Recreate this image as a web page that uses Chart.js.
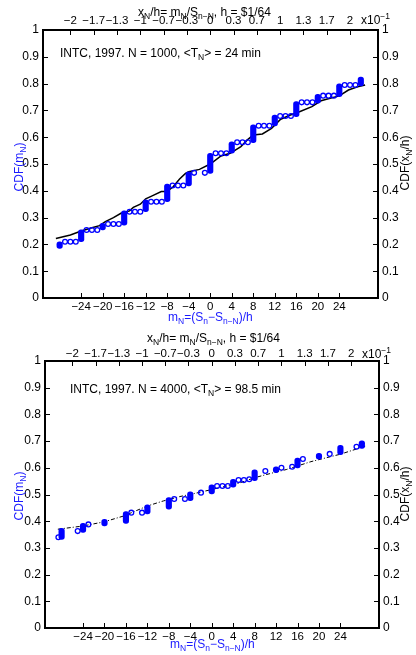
<!DOCTYPE html>
<html>
<head>
<meta charset="utf-8">
<script src="https://cdn.jsdelivr.net/npm/chart.js@4.4.0/dist/chart.umd.min.js"></script>
<style>
    body { margin: 0; background: #fff; width: 416px; height: 655px; position: relative; overflow: hidden;
           font-family: 'Liberation Sans', Arial, sans-serif; }
    canvas { position: absolute; left: 0; }
    .lbl { position: absolute; font-size: 12px; line-height: 14px; white-space: nowrap; color: #000; }
    .lbl sub { font-size: 8.5px; vertical-align: -3px; line-height: 0; }
    .lbl sup { font-size: 8.5px; vertical-align: 5px; line-height: 0; }
    .blue { color: #1a1aff; }
    .rot { transform: translate(-50%, -50%) rotate(-90deg); }
</style>
</head>
<body>
<canvas id="topChart" width="416" height="328" style="top:0"></canvas>
<canvas id="botChart" width="416" height="327" style="top:328px"></canvas>

<!-- top panel texts -->
<div class="lbl" style="left:138px;top:5px">x<sub>N</sub>/h= m<sub>N</sub>/S<sub>n−N</sub>, h = $1/64</div>
<div class="lbl" style="left:361px;top:13px">x10<sup>−1</sup></div>
<div class="lbl" style="left:60px;top:46px">INTC, 1997. N = 1000, &lt;T<sub>N</sub>&gt; = 24 min</div>
<div class="lbl blue" style="left:168px;top:310px">m<sub>N</sub>=(S<sub>n</sub>−S<sub>n−N</sub>)/h</div>
<div class="lbl blue rot" style="left:19px;top:167px">CDF(m<sub>N</sub>)</div>
<div class="lbl rot" style="left:405px;top:163px">CDF(x<sub>N</sub>/h)</div>

<!-- bottom panel texts -->
<div class="lbl" style="left:147px;top:331px">x<sub>N</sub>/h= m<sub>N</sub>/S<sub>n−N</sub>, h = $1/64</div>
<div class="lbl" style="left:362px;top:347px">x10<sup>−1</sup></div>
<div class="lbl" style="left:70px;top:382px">INTC, 1997. N = 4000, &lt;T<sub>N</sub>&gt; = 98.5 min</div>
<div class="lbl blue" style="left:170px;top:637px">m<sub>N</sub>=(S<sub>n</sub>−S<sub>n−N</sub>)/h</div>
<div class="lbl blue rot" style="left:19px;top:496px">CDF(m<sub>N</sub>)</div>
<div class="lbl rot" style="left:405px;top:494px">CDF(x<sub>N</sub>/h)</div>

<script>
(function () {
    'use strict';

    // axis ticks
    const xTicks = [-24, -20, -16, -12, -8, -4, 0, 4, 8, 12, 16, 20, 24];
    const xTopLabels = ['\u22122', '\u22121.7', '\u22121.3', '\u22121', '\u22120.7', '\u22120.3', '0',
                        '0.3', '0.7', '1', '1.3', '1.7', '2'];
    const X_MIN = -28.7;
    const X_MAX = 28.8;

    // positions of the dense columns of points (same in both panels)
    const barX = [-28, -24, -20, -16, -12, -8, -4, 0, 4, 8, 12, 16, 20, 24, 28];

    // top panel, N = 1000
    const topBarLow  = [0.185, 0.210, 0.254, 0.272, 0.322, 0.359, 0.418, 0.465, 0.540, 0.580, 0.642, 0.677, 0.727, 0.751, 0.791];
    const topBarHigh = [0.210, 0.254, 0.279, 0.325, 0.366, 0.425, 0.471, 0.540, 0.583, 0.646, 0.683, 0.733, 0.760, 0.799, 0.824];
    const topCircX = [-27, -26, -25, -23, -22, -21, -19, -18, -17, -15, -14, -13, -11, -10, -9, -7, -6, -5,
                      -3, -1, 1, 2, 3, 5, 6, 7, 9, 10, 11, 13, 14, 15, 17, 18, 19, 21, 22, 23, 25, 26, 27];
    const topCircY = [0.210, 0.210, 0.210, 0.254, 0.254, 0.254, 0.276, 0.276, 0.276, 0.322, 0.322, 0.322,
                      0.359, 0.359, 0.359, 0.420, 0.420, 0.420, 0.467, 0.467, 0.540, 0.540, 0.540,
                      0.581, 0.581, 0.581, 0.643, 0.643, 0.643, 0.679, 0.679, 0.679, 0.730, 0.730, 0.730,
                      0.755, 0.755, 0.755, 0.795, 0.795, 0.795];
    const topLineX = [-28.7, -26, -24, -22, -20.6, -19.5, -18, -16.6, -15, -14.3, -13, -12, -10.9, -9.1, -8,
                      -6.9, -5.7, -4.6, -4, -2, 0, 2, 3.7, 5.7, 6.9, 8, 9.7, 11.4, 13.1, 14.9, 16.6,
                      18.9, 20.6, 22.3, 24, 25.7, 27.4, 28.8];
    const topLineY = [0.222, 0.235, 0.250, 0.262, 0.270, 0.285, 0.300, 0.316, 0.325, 0.338, 0.350, 0.370,
                      0.380, 0.397, 0.397, 0.415, 0.444, 0.465, 0.471, 0.480, 0.500, 0.530, 0.540, 0.565,
                      0.590, 0.608, 0.612, 0.633, 0.667, 0.683, 0.695, 0.714, 0.736, 0.745, 0.754, 0.776,
                      0.788, 0.795];

    // bottom panel, N = 4000
    const botBarLow  = [0.332, 0.358, 0.382, 0.392, 0.427, 0.445, 0.477, 0.502, 0.527, 0.552, 0.582, 0.600, 0.632, 0.649, 0.673];
    const botBarHigh = [0.373, 0.392, 0.407, 0.436, 0.461, 0.488, 0.510, 0.536, 0.557, 0.592, 0.604, 0.636, 0.654, 0.684, 0.701];
    const botCircX = [-28.6, -25, -23, -15, -13, -7, -5, -2, 1, 2, 3, 5, 6, 7, 10, 13, 15, 17, 22, 27];
    const botCircY = [0.340, 0.363, 0.388, 0.432, 0.432, 0.483, 0.483, 0.507, 0.532, 0.532, 0.532,
                      0.554, 0.554, 0.557, 0.588, 0.600, 0.604, 0.633, 0.652, 0.679];
    const botLineX = [-28.7, -24, -20, -16.5, -12, -9, -6, -2.5, 5, 8, 11, 14, 18.5, 24, 28.8];
    const botLineY = [0.370, 0.382, 0.398, 0.419, 0.457, 0.476, 0.492, 0.507, 0.542, 0.563, 0.579, 0.594,
                      0.623, 0.651, 0.682];

    Chart.defaults.font.family = "'Liberation Sans', Arial, sans-serif";
    Chart.defaults.font.size = 12;
    Chart.defaults.color = '#000';

    const minus = v => (v < 0 ? '\u2212' + Math.abs(v) : String(v));

    // MATLAB style ticks pointing into the plot box
    const innerTicks = {
        id: 'innerTicks',
        afterDraw(chart) {
            const ctx = chart.ctx;
            const a = chart.chartArea;
            ctx.save();
            ctx.strokeStyle = '#000';
            ctx.lineWidth = 1;
            Object.values(chart.scales).forEach(s => {
                s.ticks.forEach(t => {
                    const p = Math.round(s.getPixelForValue(t.value)) + 0.5;
                    ctx.beginPath();
                    if (s.position === 'bottom') { ctx.moveTo(p, a.bottom); ctx.lineTo(p, a.bottom - 5); }
                    else if (s.position === 'top') { ctx.moveTo(p, a.top); ctx.lineTo(p, a.top + 5); }
                    else if (s.position === 'left') { ctx.moveTo(a.left, p); ctx.lineTo(a.left + 5, p); }
                    else { ctx.moveTo(a.right, p); ctx.lineTo(a.right - 5, p); }
                    ctx.stroke();
                });
            });
            ctx.restore();
        }
    };

    function makeChart(id, box, d) {
        const noGrid = { display: false, drawTicks: false };
        const border = { display: true, color: '#000', width: 2 };
        const xAxis = (position, labels, size, pad) => ({
            type: 'linear', position: position, min: X_MIN, max: X_MAX,
            grid: noGrid, border: border,
            afterBuildTicks: s => { s.ticks = xTicks.map(v => ({ value: v })); },
            afterFit: s => { s.height = size; },
            ticks: {
                padding: pad, autoSkip: false, maxRotation: 0, font: { size: 11.5 },
                callback: (v, i) => (labels ? labels[i] : minus(v))
            }
        });
        const yAxis = (position, size) => ({
            type: 'linear', position: position, min: 0, max: 1,
            grid: noGrid, border: border,
            afterFit: s => { s.width = size; },
            ticks: { stepSize: 0.1, padding: 4, callback: v => String(+v.toFixed(1)) }
        });

        return new Chart(document.getElementById(id), {
            type: 'scatter',
            data: {
                datasets: [
                    {
                        type: 'line',
                        data: d.lineX.map((x, i) => ({ x: x, y: d.lineY[i] })),
                        borderColor: '#000',
                        borderWidth: d.lineWidth,
                        borderDash: d.lineDash,
                        pointRadius: 0,
                        tension: 0,
                        order: 3
                    },
                    {
                        type: 'bar',
                        data: barX.map((x, i) => ({ x: x, y: [d.barLow[i], d.barHigh[i]] })),
                        backgroundColor: '#0000ff',
                        barThickness: 5.5,
                        borderRadius: 3,
                        borderSkipped: false,
                        order: 2
                    },
                    {
                        type: 'scatter',
                        data: d.circX.map((x, i) => ({ x: x, y: d.circY[i] })),
                        pointStyle: 'circle',
                        pointRadius: 2.4,
                        borderWidth: 1.3,
                        borderColor: '#0000ff',
                        backgroundColor: 'rgba(255,255,255,0)',
                        clip: false,
                        order: 1
                    }
                ]
            },
            options: {
                responsive: false,
                animation: false,
                events: [],
                layout: { padding: 0 },
                scales: {
                    x: xAxis('bottom', null, box.bottom, 2),
                    xTop: xAxis('top', xTopLabels, box.top, box.topPad),
                    y: yAxis('left', box.left),
                    yRight: yAxis('right', box.right)
                },
                plugins: { legend: { display: false }, tooltip: { enabled: false } }
            },
            plugins: [innerTicks]
        });
    }

    makeChart('topChart', { left: 43, right: 38, top: 30, bottom: 30, topPad: 2 }, {
        barLow: topBarLow, barHigh: topBarHigh, circX: topCircX, circY: topCircY,
        lineX: topLineX, lineY: topLineY, lineWidth: 1.5, lineDash: []
    });

    makeChart('botChart', { left: 45, right: 37, top: 33, bottom: 27, topPad: 0 }, {
        barLow: botBarLow, barHigh: botBarHigh, circX: botCircX, circY: botCircY,
        lineX: botLineX, lineY: botLineY, lineWidth: 1, lineDash: [4, 2, 1, 2]
    });
})();
</script>
</body>
</html>
